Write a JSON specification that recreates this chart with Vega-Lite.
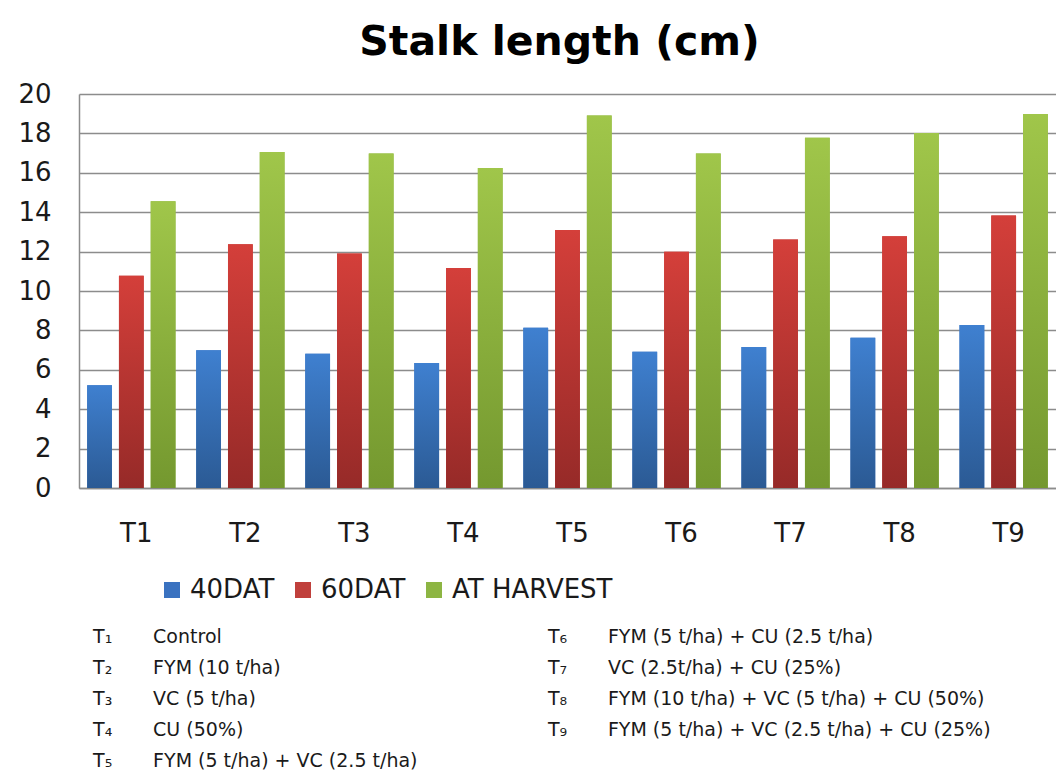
{
  "$schema": "https://vega.github.io/schema/vega-lite/v6.json",
  "background": "white",
  "padding": {"left": 17, "top": 22, "right": 0, "bottom": 0},
  "spacing": 18,
  "datasets": {
    "bars": [
      {"t": "T1", "series": "40DAT", "v": 5.22}, {"t": "T1", "series": "60DAT", "v": 10.78}, {"t": "T1", "series": "AT HARVEST", "v": 14.56},
      {"t": "T2", "series": "40DAT", "v": 6.99}, {"t": "T2", "series": "60DAT", "v": 12.37}, {"t": "T2", "series": "AT HARVEST", "v": 17.05},
      {"t": "T3", "series": "40DAT", "v": 6.82}, {"t": "T3", "series": "60DAT", "v": 11.9}, {"t": "T3", "series": "AT HARVEST", "v": 16.98},
      {"t": "T4", "series": "40DAT", "v": 6.35}, {"t": "T4", "series": "60DAT", "v": 11.17}, {"t": "T4", "series": "AT HARVEST", "v": 16.25},
      {"t": "T5", "series": "40DAT", "v": 8.13}, {"t": "T5", "series": "60DAT", "v": 13.1}, {"t": "T5", "series": "AT HARVEST", "v": 18.91},
      {"t": "T6", "series": "40DAT", "v": 6.92}, {"t": "T6", "series": "60DAT", "v": 11.99}, {"t": "T6", "series": "AT HARVEST", "v": 16.98},
      {"t": "T7", "series": "40DAT", "v": 7.16}, {"t": "T7", "series": "60DAT", "v": 12.61}, {"t": "T7", "series": "AT HARVEST", "v": 17.78},
      {"t": "T8", "series": "40DAT", "v": 7.63}, {"t": "T8", "series": "60DAT", "v": 12.78}, {"t": "T8", "series": "AT HARVEST", "v": 18.02},
      {"t": "T9", "series": "40DAT", "v": 8.28}, {"t": "T9", "series": "60DAT", "v": 13.83}, {"t": "T9", "series": "AT HARVEST", "v": 18.98}
    ],
    "notes": [
      {"col": "1", "row": 1, "code": "T₁", "desc": "Control"},
      {"col": "1", "row": 2, "code": "T₂", "desc": "FYM (10 t/ha)"},
      {"col": "1", "row": 3, "code": "T₃", "desc": "VC   (5 t/ha)"},
      {"col": "1", "row": 4, "code": "T₄", "desc": "CU (50%)"},
      {"col": "1", "row": 5, "code": "T₅", "desc": "FYM (5 t/ha) + VC (2.5 t/ha)"},
      {"col": "2", "row": 1, "code": "T₆", "desc": "FYM (5 t/ha) + CU (2.5 t/ha)"},
      {"col": "2", "row": 2, "code": "T₇", "desc": "VC (2.5t/ha) + CU (25%)"},
      {"col": "2", "row": 3, "code": "T₈", "desc": "FYM (10 t/ha) + VC (5 t/ha) + CU (50%)"},
      {"col": "2", "row": 4, "code": "T₉", "desc": "FYM (5 t/ha) + VC (2.5 t/ha) + CU (25%)"}
    ]
  },
  "resolve": {"legend": {"color": "independent"}},
  "vconcat": [
    {
      "title": {"text": "Stalk length (cm)", "font": "DejaVu Sans", "fontSize": 41, "fontWeight": "bold", "color": "#000000", "offset": 17, "anchor": "middle", "dx": -8},
      "width": 977,
      "height": 394,
      "data": {"name": "bars"},
      "encoding": {
        "x": {
          "field": "t", "type": "nominal", "title": null,
          "scale": {"paddingInner": 0.19, "paddingOuter": 0.075},
          "axis": {"labelAngle": 0, "labelFont": "DejaVu Sans", "labelFontSize": 26, "labelColor": "#1a1a1a", "labelPadding": 32, "ticks": false, "domainColor": "#8c8c8c", "domainWidth": 1.5, "labelOffset": 5}
        },
        "xOffset": {"field": "series", "type": "nominal", "scale": {"domain": ["40DAT", "60DAT", "AT HARVEST"], "paddingInner": 0.22, "paddingOuter": 0}},
        "y": {
          "field": "v", "type": "quantitative", "title": null,
          "scale": {"domain": [0, 20], "nice": false},
          "axis": {"values": [0, 2, 4, 6, 8, 10, 12, 14, 16, 18, 20], "labelFont": "DejaVu Sans", "labelFontSize": 26, "labelColor": "#1a1a1a", "labelPadding": 28, "ticks": false, "domainColor": "#8c8c8c", "domainWidth": 1.5, "gridColor": "#8c8c8c", "gridWidth": 1.5, "gridOpacity": 1}
        }
      },
      "layer": [
        {
          "mark": {"type": "bar"},
          "encoding": {
            "color": {
              "field": "series", "type": "nominal",
              "scale": {"domain": ["40DAT", "60DAT", "AT HARVEST"], "range": ["#3a72c0", "#c0403c", "#8db543"]},
              "legend": {
                "title": null, "orient": "none", "legendX": 80, "legendY": 483, "direction": "horizontal",
                "symbolType": "square", "symbolSize": 256, "symbolStrokeWidth": 0, "symbolOpacity": 1,
                "labelFont": "DejaVu Sans", "labelFontSize": 26, "labelColor": "#1a1a1a", "labelOffset": 5, "columnPadding": 15, "labelLimit": 400
              }
            }
          }
        },
        {
          "transform": [{"filter": "datum.series === '40DAT'"}],
          "mark": {"type": "bar", "color": {"gradient": "linear", "x1": 0, "y1": 0, "x2": 0, "y2": 1, "stops": [{"offset": 0, "color": "#3f80d0"}, {"offset": 1, "color": "#2b5a94"}]}}
        },
        {
          "transform": [{"filter": "datum.series === '60DAT'"}],
          "mark": {"type": "bar", "color": {"gradient": "linear", "x1": 0, "y1": 0, "x2": 0, "y2": 1, "stops": [{"offset": 0, "color": "#d43f3a"}, {"offset": 1, "color": "#962a28"}]}}
        },
        {
          "transform": [{"filter": "datum.series === 'AT HARVEST'"}],
          "mark": {"type": "bar", "color": {"gradient": "linear", "x1": 0, "y1": 0, "x2": 0, "y2": 1, "stops": [{"offset": 0, "color": "#a0c64a"}, {"offset": 1, "color": "#74982f"}]}}
        }
      ]
    },
    {
      "width": 483,
      "height": 155,
      "data": {"name": "notes"},
      "encoding": {
        "x": {"field": "col", "type": "ordinal", "scale": {"type": "point", "padding": 0.031}, "axis": null},
        "y": {"field": "row", "type": "ordinal", "scale": {"type": "point", "padding": 0.5}, "axis": null}
      },
      "layer": [
        {"mark": {"type": "text", "align": "left", "baseline": "middle", "font": "DejaVu Sans", "fontSize": 19, "color": "#1a1a1a"}, "encoding": {"text": {"field": "code"}}},
        {"mark": {"type": "text", "align": "left", "baseline": "middle", "font": "DejaVu Sans", "fontSize": 19, "color": "#1a1a1a", "dx": 60}, "encoding": {"text": {"field": "desc"}}}
      ]
    }
  ],
  "config": {"view": {"stroke": null}}
}
